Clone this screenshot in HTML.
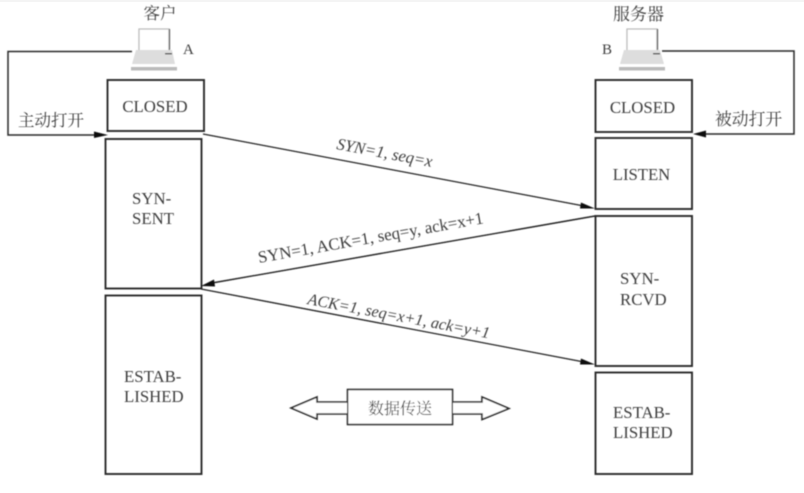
<!DOCTYPE html>
<html>
<head>
<meta charset="utf-8">
<style>
html,body{margin:0;padding:0;background:#fff;width:804px;height:493px;overflow:hidden}
svg{display:block}
text{font-family:"Liberation Serif","Noto Serif CJK SC",serif;fill:#3c3c3c}
.c{text-anchor:middle}
.i{font-style:italic}
</style>
</head>
<body>
<svg width="804" height="493" viewBox="0 0 804 493" xmlns="http://www.w3.org/2000/svg">
<defs><filter id="b" x="-5%" y="-5%" width="110%" height="110%"><feGaussianBlur stdDeviation="0.5"/></filter></defs>
<rect width="804" height="493" fill="#fff"/>
<rect x="0" y="0" width="804" height="2" fill="#f4f4f4"/>
<g filter="url(#b)">
<g fill="none" stroke="#2a2a2a" stroke-width="1.9">
<rect x="107.500" y="80" width="96.500" height="51"/>
<rect x="105.500" y="139" width="96" height="149.500"/>
<rect x="105.500" y="295.500" width="96" height="178.500"/>
<rect x="595.500" y="80" width="96.500" height="52"/>
<rect x="595.500" y="138" width="96.500" height="71"/>
<rect x="595.500" y="216" width="96.500" height="150"/>
<rect x="595.500" y="372.500" width="96.500" height="101.500"/>
</g>
<!-- client computer -->
<path d="M139 50V29H169V50" fill="#fff" stroke="#bbb" stroke-width="1.3"/>
<path d="M169.500 29V50" stroke="#666" stroke-width="1.3"/>
<path d="M136 50H172L175 64H132Z" fill="#ddd"/>
<rect x="165" y="53" width="7" height="1.500" fill="#555"/>
<rect x="131" y="67" width="46" height="3.500" fill="#bbb"/>
<!-- server computer -->
<path d="M627 50V29H657V50" fill="#fff" stroke="#bbb" stroke-width="1.3"/>
<path d="M657.500 29V50" stroke="#666" stroke-width="1.3"/>
<path d="M624 50H660L664 64H620Z" fill="#ddd"/>
<rect x="653" y="53" width="7" height="1.500" fill="#555"/>
<rect x="619" y="67" width="46" height="3.500" fill="#bbb"/>
<!-- open connectors -->
<path d="M132 51.500H8V135H96" fill="none" stroke="#2a2a2a" stroke-width="1.500"/>
<path d="M94 131.500L108 135L94 138Z" fill="#111"/>
<path d="M662 51H794V134H705" fill="none" stroke="#2a2a2a" stroke-width="1.500"/>
<path d="M706 130.500L693 134L706 137.500Z" fill="#111"/>
<!-- handshake -->
<path d="M203 134L584 206" stroke="#222" stroke-width="1.300"/>
<path d="M581 202.500L595 208.500L580 208.500Z" fill="#111"/>
<path d="M595 216L212 283" stroke="#222" stroke-width="1.400"/>
<path d="M214 279.500L201 286L215 286.500Z" fill="#111"/>
<path d="M201 289L584 362" stroke="#222" stroke-width="1.300"/>
<path d="M581 358.500L595 364.500L580 364.500Z" fill="#111"/>
<!-- data transfer -->
<rect x="347.500" y="389.500" width="105" height="35" fill="#fff" stroke="#2a2a2a" stroke-width="1.600"/>
<path d="M347 402H317V397L291 408L317 419V414H347" fill="#fff" stroke="#2a2a2a" stroke-width="1.600"/>
<path d="M453 402H482V397L509 408.500L482 419.500V414H453" fill="#fff" stroke="#2a2a2a" stroke-width="1.600"/>
<!-- labels -->
<text class="c" x="160" y="19" style="font-size:16.500px">客户</text>
<text x="183" y="54" style="font-size:15px">A</text>
<text class="c" x="638.500" y="20" style="font-size:17px">服务器</text>
<text x="602" y="54" style="font-size:15px">B</text>
<text class="c" x="155" y="112" style="font-size:16.800px">CLOSED</text>
<text class="c" x="642.500" y="113" style="font-size:16.800px">CLOSED</text>
<text class="c" x="641.500" y="180" style="font-size:16.700px">LISTEN</text>
<text x="132" y="204" style="font-size:16.800px">SYN-</text>
<text x="132" y="224" style="font-size:16.800px">SENT</text>
<text x="620" y="284" style="font-size:16.800px">SYN-</text>
<text x="620" y="305" style="font-size:16.800px">RCVD</text>
<text x="124" y="382" style="font-size:16.800px">ESTAB-</text>
<text x="124" y="402" style="font-size:16.800px">LISHED</text>
<text x="613" y="418" style="font-size:16.800px">ESTAB-</text>
<text x="613" y="438" style="font-size:16.800px">LISHED</text>
<text x="18" y="126" style="font-size:16.500px">主动打开</text>
<text x="715" y="125" style="font-size:16.800px">被动打开</text>
<text class="c" x="400" y="414" style="font-size:16px">数据传送</text>
<text class="i" transform="translate(336 149) rotate(10.700)" style="font-size:16.600px">SYN=1, seq=x</text>
<text transform="translate(259 263) rotate(-10)" style="font-size:16.900px">SYN=1, ACK=1, seq=y, ack=x+1</text>
<text class="i" transform="translate(307 304) rotate(10.700)" style="font-size:16.200px">ACK=1, seq=x+1, ack=y+1</text>
</g>
</svg>
</body>
</html>
